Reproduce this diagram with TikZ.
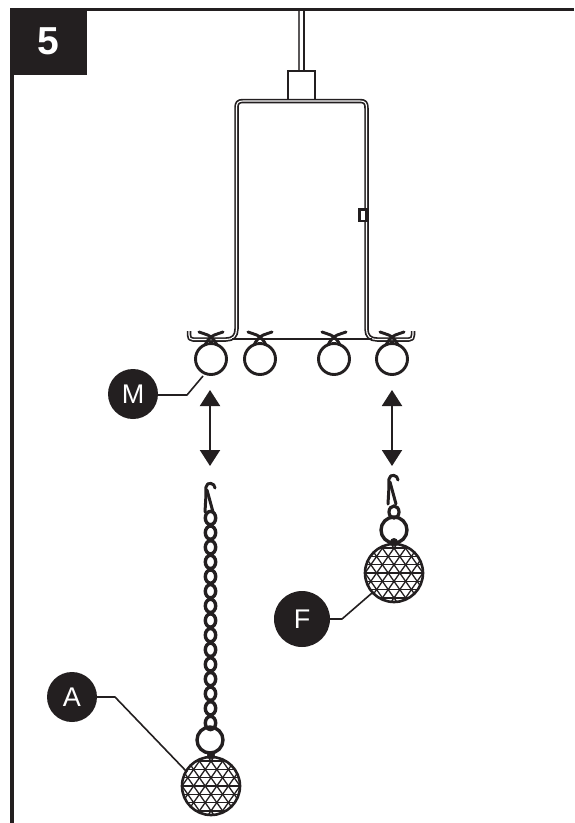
\documentclass[tikz,border=0pt]{standalone}
\usepackage{fontspec}
\setmainfont{Liberation Sans}
\usetikzlibrary{arrows.meta}
\definecolor{ink}{HTML}{231F20}
\tikzset{
  frameline/.style={ink,line width=3.5pt},
  badge/.style={circle,fill=ink,text=white,minimum size=50pt,inner sep=0pt,font=\fontsize{27}{27}\selectfont},
  leader/.style={ink,line width=1.6pt,line join=round},
  wire/.style={ink,line width=2.9pt},
  updown/.style={ink,line width=2pt,{Triangle[length=16pt,width=20pt]}-{Triangle[length=16pt,width=20pt]},shorten >=0pt,shorten <=0pt},
  rail/.style={ink,double=white,double distance=1.1pt,line width=1.7pt,line join=round},
  pics/tie/.style={code={
    \draw[wire] (0,0) circle[radius=15.5];
    \draw[wire,line cap=round] (-12,-27) .. controls (-5,-24.5) and (-1,-24) .. (2,-20) .. controls (3.5,-18) and (5,-17) .. (6,-14);
    \draw[wire,line cap=round] (12,-27) .. controls (5,-24.5) and (1,-24) .. (-2,-20) .. controls (-3.5,-18) and (-5,-17) .. (-6,-14);
  }},
  pics/gem/.style={code={
    \begin{scope}
      \clip (0,0) circle[radius=29];
      \foreach \r in {-24.9,-16.6,-8.3,0,8.3,16.6,24.9} \draw[ink,line width=1.3pt] (-30,\r) -- (30,\r);
      \foreach \k in {-5,...,4} {
        \draw[ink,line width=1.3pt] (\k*11.6+5.8-28,-40) -- (\k*11.6+5.8+28,40);
        \draw[ink,line width=1.3pt] (\k*11.6+5.8+28,-40) -- (\k*11.6+5.8-28,40);
      }
    \end{scope}
    \draw[ink,line width=2.6pt] (0,0) circle[radius=29];
    \fill[ink] (0,-31) circle[radius=4];
  }},
  pics/hook/.style={code={
    \draw[ink,line width=3pt,line cap=round,line join=round] (5,6) .. controls (5,1) and (-3,-1) .. (-4,5) -- (-4.2,16) -- (-5,30);
    \draw[ink,line width=3pt,line cap=round] (-3,8) -- (3,30);
  }}
}
\begin{document}
\begin{tikzpicture}[x=1pt,y=-1pt]
\useasboundingbox (0,0) rectangle (574,823);
\fill[white] (0,0) rectangle (574,823);
% frame
\coordinate (topL) at (10,9.5);
\coordinate (topR) at (574,9.5);
\coordinate (leftT) at (12,8);
\coordinate (leftB) at (12,823);
\draw[frameline] (topL) -- (topR);
\draw[frameline] (leftT) -- (leftB);
\node[fill=ink,text=white,minimum width=77pt,minimum height=67pt,inner sep=0pt,anchor=north west,font=\fontsize{39}{39}\selectfont\bfseries] (stepno) at (10,8) {5};
% rod and block
\coordinate (rodA) at (299,11); \coordinate (rodB) at (299,71);
\coordinate (rodC) at (304,11); \coordinate (rodD) at (304,71);
\draw[ink!75,line width=2pt] (rodA) -- (rodB);
\draw[ink,line width=2.3pt] (rodC) -- (rodD);
\draw[ink,line width=1.8pt] (288,100) rectangle (315,71);
\draw[ink,line width=2.8pt] (275,101) -- (328,101);
% bracket
\draw[rail] (189,331) -- (189,335) .. controls (189,338) and (190,339.5) .. (193,339.5) -- (226,339.5) .. controls (233,339.5) and (236.5,336) .. (236.5,329) -- (236.5,108) .. controls (236.5,103) and (238,101) .. (243,101) -- (360,101) .. controls (365,101) and (366.5,103) .. (366.5,108) -- (366.5,329) .. controls (366.5,336) and (370,339.5) .. (377,339.5) -- (409,339.5) .. controls (412,339.5) and (413,338) .. (413,335) -- (413,331);
\coordinate (barL) at (232,339); \coordinate (barR) at (372,339);
\draw[ink,line width=1.8pt] (barL) -- (barR);
% clip on rail
\draw[ink,fill=white,line width=2.6pt] (359.5,209.5) rectangle (366.5,221);
% hanging loops
\pic at (211,359) {tie};
\pic at (260,359) {tie};
\pic at (334,359) {tie};
\pic at (392,359) {tie};
% arrows
\coordinate (leftUp) at (210,390); \coordinate (leftDown) at (210,466);
\coordinate (rightUp) at (392,390); \coordinate (rightDown) at (392,466);
\draw[updown] (leftUp) -- (leftDown);
\draw[updown] (rightUp) -- (rightDown);
% long strand
\pic at (210,482) {hook};
\foreach \n in {0,...,14} \draw[ink,line width=3.4pt] (210.5,518+\n*14.64) ellipse[x radius=5.2,y radius=6.6];
\draw[ink,line width=3.4pt] (210,740) circle[radius=13];
\pic at (211,786) {gem};
% short strand
\pic at (393,474) {hook};
\draw[ink,line width=3.2pt] (394,512) ellipse[x radius=5,y radius=6];
\draw[ink,line width=3.4pt] (394,530) circle[radius=13];
\pic at (394,573) {gem};
% badges
\node[badge] (M) at (133,394) {M};
\node[badge,minimum size=56pt] (F) at (302,619) {F};
\node[badge] (A) at (72,697) {A};
\coordinate (mKnee) at (187,395); \coordinate (mEnd) at (203,376);
\coordinate (fKnee) at (342,619); \coordinate (fEnd) at (372,593);
\coordinate (aKnee) at (115,697); \coordinate (aEnd) at (187,772);
\draw[leader] (M.east) ++(0,1) -- (mKnee) -- (mEnd);
\draw[leader] (F.east) -- (fKnee) -- (fEnd);
\draw[leader] (A.east) -- (aKnee) -- (aEnd);
\end{tikzpicture}
\end{document}
